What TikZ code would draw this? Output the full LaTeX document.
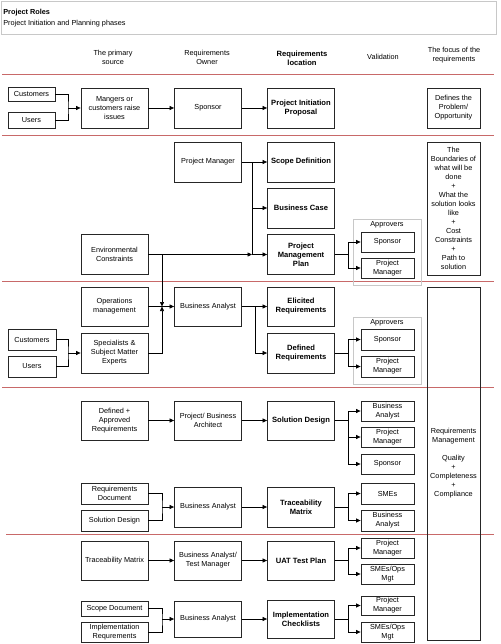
\documentclass[tikz,border=0pt]{standalone}
\usepackage{fontspec}
\setmainfont{Liberation Sans}
\usetikzlibrary{arrows.meta}
\definecolor{sepred}{RGB}{200,105,105}
\definecolor{grpgray}{RGB}{200,200,200}
\begin{document}
\begin{tikzpicture}[
  x = 1pt,
  y = -1pt,
  box/.style = {
    draw = black!85,
    line width = 0.8pt,
    minimum width = 67pt,
    minimum height = 40pt,
    inner sep = 1pt,
    align = center
  },
  bbox/.style = {
    box,
    font = \fontsize{7.6}{9}\selectfont\bfseries
  },
  vbox/.style = {
    box,
    minimum width = 53pt,
    minimum height = 20pt
  },
  sbox/.style = {
    box,
    minimum width = 47pt
  },
  grp/.style = {
    draw = grpgray,
    line width = 0.8pt,
    minimum width = 68pt,
    minimum height = 66pt
  },
  arr/.style = {
    -{Triangle[length = 4.5pt, width = 4pt]}
  },
  sep/.style = {
    draw = sepred,
    line width = 0.9pt
  },
  every path/.style = {
    line width = 0.7pt
  },
  font = \fontsize{7.3}{9}\selectfont
]
  \useasboundingbox (0,0) rectangle (500,644);

  \node[draw = grpgray, minimum width = 495pt, minimum height = 33pt] (title) at (248.5,17.5) {};
  \node[anchor = west, inner sep = 0pt, font = \fontsize{7.3}{9}\selectfont\bfseries] (ttl) at (3,13) {Project Roles};
  \node[anchor = west, inner sep = 0pt] (subttl) at (3,24) {Project Initiation and Planning phases};

  \node[align = center] (hsrc) at (113,57) {The primary\\source};
  \node[align = center] (hown) at (207,57) {Requirements\\Owner};
  \node[align = center, font = \fontsize{7.6}{9}\selectfont\bfseries] (hloc) at (302,58) {Requirements\\location};
  \node (hval) at (383,57) {Validation};
  \node[align = center] (hfoc) at (454,55) {The focus of the\\requirements};

  \draw[sep] (2,74) -- (494,74);
  \draw[sep] (2,135) -- (494,135);
  \draw[sep] (2,281) -- (494,281);
  \draw[sep] (2,387) -- (494,387);
  \draw[sep] (6,534) -- (494,534);

  \node[sbox, minimum height = 14pt] (cust1) at (31.5,94) {Customers};
  \node[sbox, minimum height = 16pt] (users1) at (31.5,120) {Users};
  \coordinate (j1) at (68,108);
  \node[box] (mgr1) at (114.5,108) {Mangers or\\customers raise\\issues};
  \node[box] (spon1) at (208,108) {Sponsor};
  \node[bbox] (pip1) at (301,108) {Project Initiation\\Proposal};
  \node[box, minimum width = 53pt] (focus1) at (453.5,108) {Defines the\\Problem/\\Opportunity};

  \draw (cust1.east) -| (j1) |- (users1.east);
  \draw[arr] (j1) -- (mgr1);
  \draw[arr] (mgr1) -- (spon1);
  \draw[arr] (spon1) -- (pip1);

  \node[box] (pm2) at (208,162) {Project Manager};
  \node[bbox] (scope2) at (301,162) {Scope Definition};
  \node[bbox] (bcase2) at (301,208) {Business Case};
  \node[bbox] (pmp2) at (301,254.5) {Project\\Management\\Plan};
  \node[box] (env2) at (114.5,254.5) {Environmental\\Constraints};
  \coordinate (jpm) at (252,162);
  \coordinate (jpmp) at (252,254.5);
  \node[grp] (appr2) at (387,252) {};
  \node (appr2lbl) at ([yshift = -6pt]appr2.north) {Approvers};
  \node[vbox] (spon2) at (387.5,242) {Sponsor};
  \node[vbox] (pmv2) at (387.5,268) {Project\\Manager};
  \node[box, minimum width = 53pt, minimum height = 133pt] (focus2) at (453.5,208.5)
    {The\\Boundaries of\\what will be\\done\\+\\What the\\solution looks\\like\\+\\Cost\\Constraints\\+\\Path to\\solution};

  \draw (pm2) -- (jpm) -- (jpmp);
  \draw[arr] (jpm) -- (scope2);
  \draw[arr] (jpm |- bcase2) -- (bcase2);
  \draw[arr] (env2) -- (jpmp);
  \draw[arr] (jpmp) -- (pmp2);
  \draw[arr] (pmp2.east) -- ++(13,0) |- (spon2);
  \draw[arr] (pmp2.east) -- ++(13,0) |- (pmv2);

  \node[box, minimum height = 39pt] (ops3) at (114.5,306.5) {Operations\\management};
  \node[box] (spec3) at (114.5,353) {Specialists \&\\Subject Matter\\Experts};
  \node[sbox, minimum width = 48pt, minimum height = 21pt] (cust3) at (32,339.5) {Customers};
  \node[sbox, minimum width = 48pt, minimum height = 21pt] (users3) at (32,366.5) {Users};
  \coordinate (j3) at (68,353);
  \coordinate (jba) at (162,306.5);
  \node[box, minimum height = 39pt] (ba3) at (208,306.5) {Business Analyst};
  \coordinate (jel) at (255,306.5);
  \node[bbox, minimum height = 39pt] (elic3) at (301,306.5) {Elicited\\Requirements};
  \node[bbox] (defd3) at (301,353) {Defined\\Requirements};
  \node[grp, minimum height = 67pt] (appr3) at (387,350.5) {};
  \node (appr3lbl) at ([yshift = -6pt]appr3.north) {Approvers};
  \node[vbox, minimum height = 21pt] (spon3) at (387.5,339.5) {Sponsor};
  \node[vbox, minimum height = 21pt] (pmv3) at (387.5,366.5) {Project\\Manager};
  \node[box, minimum width = 53pt, minimum height = 353pt] (focus3) at (453.5,463.5)
    {Requirements\\Management\\[9pt]Quality\\+\\Completeness\\+\\Compliance};

  \draw (cust3.east) -| (j3) |- (users3.east);
  \draw[arr] (j3) -- (spec3);
  \draw[arr] (env2.east -| jba) -- (jba);
  \draw[arr] (spec3.east) -| (jba);
  \draw (ops3) -- (jba);
  \draw[arr] (jba) -- (ba3);
  \draw (ba3) -- (jel);
  \draw[arr] (jel) -- (elic3);
  \draw[arr] (jel) |- (defd3);
  \draw[arr] (defd3.east) -- ++(13,0) |- (spon3);
  \draw[arr] (defd3.east) -- ++(13,0) |- (pmv3);

  \node[box, minimum height = 39pt] (dar4) at (114.5,420.5) {Defined +\\Approved\\Requirements};
  \node[box, minimum height = 39pt] (arch4) at (208,420.5) {Project/ Business\\Architect};
  \node[bbox, minimum height = 39pt] (sd4) at (301,420.5) {Solution Design};
  \node[vbox] (bav4) at (387.5,411) {Business\\Analyst};
  \node[vbox] (pmv4) at (387.5,437) {Project\\Manager};
  \node[vbox] (sponv4) at (387.5,464) {Sponsor};
  \node[box, minimum height = 21pt] (rdoc4) at (114.5,493.5) {Requirements\\Document};
  \node[box, minimum height = 21pt] (sdes4) at (114.5,520.5) {Solution Design};
  \coordinate (j4) at (162,507);
  \node[box] (ba4) at (208,507) {Business Analyst};
  \node[bbox] (tm4) at (301,507) {Traceability\\Matrix};
  \node[vbox, minimum height = 21pt] (smes4) at (387.5,493.5) {SMEs};
  \node[vbox, minimum height = 21pt] (bav4b) at (387.5,520.5) {Business\\Analyst};

  \draw[arr] (dar4) -- (arch4);
  \draw[arr] (arch4) -- (sd4);
  \draw[arr] (sd4.east) -- ++(13,0) |- (bav4);
  \draw[arr] (sd4.east) -- ++(13,0) |- (pmv4);
  \draw[arr] (sd4.east) -- ++(13,0) |- (sponv4);
  \draw (rdoc4.east) -| (j4) |- (sdes4.east);
  \draw[arr] (j4) -- (ba4);
  \draw[arr] (ba4) -- (tm4);
  \draw[arr] (tm4.east) -- ++(13,0) |- (smes4);
  \draw[arr] (tm4.east) -- ++(13,0) |- (bav4b);

  \node[box, minimum height = 39pt] (tmx5) at (114.5,560.5) {Traceability Matrix};
  \node[box, minimum height = 39pt] (batm5) at (208,560.5) {Business Analyst/\\Test Manager};
  \node[bbox, minimum height = 39pt] (uat5) at (301,560.5) {UAT Test Plan};
  \node[vbox] (pmv5) at (387.5,548) {Project\\Manager};
  \node[vbox] (smev5) at (387.5,574) {SMEs/Ops\\Mgt};
  \node[box, minimum height = 15pt] (sdoc5) at (114.5,608.5) {Scope Document};
  \node[box, minimum height = 20pt] (ireq5) at (114.5,632) {Implementation\\Requrements};
  \coordinate (j5) at (162,619);
  \node[box, minimum height = 36pt] (ba5) at (208,619) {Business Analyst};
  \node[bbox, minimum height = 38pt] (ic5) at (301,619) {Implementation\\Checklists};
  \node[vbox, minimum height = 19pt] (pmv6) at (387.5,605.5) {Project\\Manager};
  \node[vbox] (smev6) at (387.5,632) {SMEs/Ops\\Mgt};

  \draw[arr] (tmx5) -- (batm5);
  \draw[arr] (batm5) -- (uat5);
  \draw[arr] (uat5.east) -- ++(13,0) |- (pmv5);
  \draw[arr] (uat5.east) -- ++(13,0) |- (smev5);
  \draw (sdoc5.east) -| (j5) |- (ireq5.east);
  \draw[arr] (j5) -- (ba5);
  \draw[arr] (ba5) -- (ic5);
  \draw[arr] (ic5.east) -- ++(13,0) |- (pmv6);
  \draw[arr] (ic5.east) -- ++(13,0) |- (smev6);
\end{tikzpicture}
\end{document}
